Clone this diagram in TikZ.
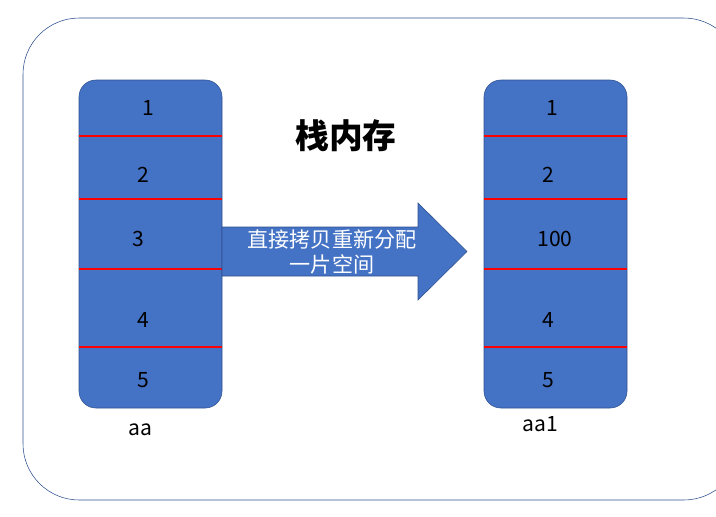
\documentclass[tikz,border=0pt]{standalone}
\usepackage{fontspec}
\setmainfont{Noto Sans CJK SC}
\usetikzlibrary{shapes.arrows}
\definecolor{cellblue}{HTML}{4472C4}
\definecolor{edgeblue}{HTML}{2F528F}
\tikzset{
  stackbox/.style={draw=edgeblue,fill=cellblue,rounded corners=12pt,minimum width=143*0.025cm,minimum height=328*0.025cm,inner sep=0pt},
  cellsep/.style={draw=red,line width=1.3pt},
  celltext/.style={font=\fontsize{15}{15}\selectfont,text=black}
}
\begin{document}
\begin{tikzpicture}[x=0.025cm,y=-0.025cm]
\useasboundingbox (0,0) rectangle (716,516);
\draw[edgeblue,rounded corners=40pt] (23,18) rectangle (740,500);
% left stack
\node[stackbox] (aa) at (150.5,244) {};
\foreach \y in {136,199,269,347} \draw[cellsep] (79,\y) -- (222,\y);
\node[celltext] (a1) at (148,108) {1};
\node[celltext] (a2) at (143,175) {2};
\node[celltext] (a3) at (138,239) {3};
\node[celltext] (a4) at (143,320) {4};
\node[celltext] (a5) at (143,380) {5};
\node[celltext] (aalab) at (140,430) {aa};
% right stack
\node[stackbox] (bb) at (555.5,244) {};
\foreach \y in {136,199,269,347} \draw[cellsep] (484,\y) -- (627,\y);
\node[celltext] (b1) at (552,108) {1};
\node[celltext] (b2) at (548,175) {2};
\node[celltext] (b3) at (555,239) {100};
\node[celltext] (b4) at (548,320) {4};
\node[celltext] (b5) at (548,380) {5};
\node[celltext] (bblab) at (540,424) {aa1};
% arrow
\draw[edgeblue,fill=cellblue] (222,227) -- (418,227) -- (418,203) -- (467,251.5)
  -- (418,300) -- (418,276) -- (222,276) -- cycle;
\node[text=white,align=center,font=\fontsize{15}{18}\selectfont] (copy) at (332,252) {直接拷贝重新分配\\一片空间};
\node[font=\fontsize{24}{24}\selectfont\bfseries] (title) at (346,136) {栈内存};
\end{tikzpicture}
\end{document}
